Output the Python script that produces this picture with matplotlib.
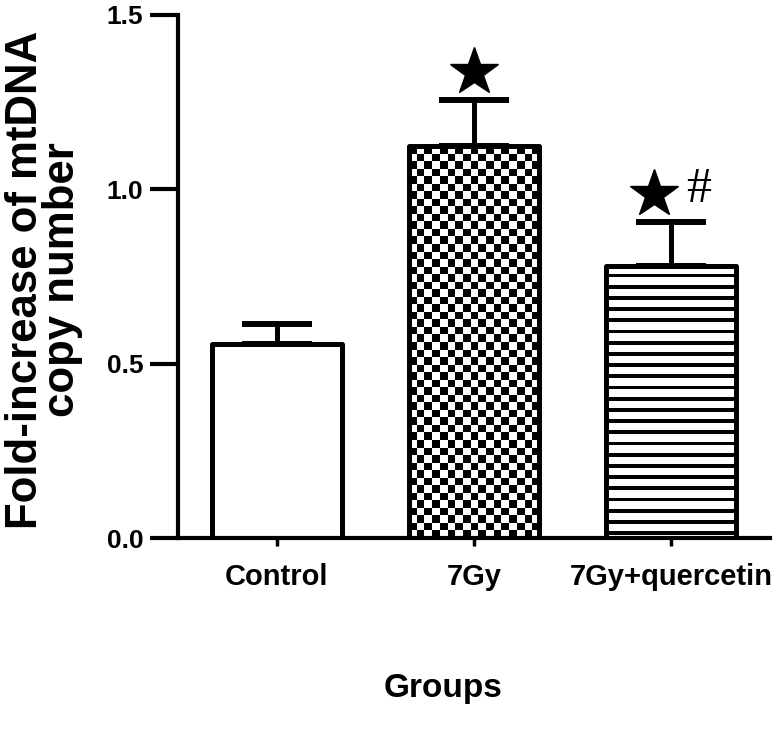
import numpy as np
import matplotlib
matplotlib.use("Agg")
import matplotlib.pyplot as plt

groups = ["Control", "7Gy", "7Gy+quercetin"]
means = [0.555, 1.124, 0.779]
errs = [0.059, 0.132, 0.127]
star_y = [1.336, 0.988]
hash_y = 0.998

sans = ["Liberation Sans", "DejaVu Sans"]

fig = plt.figure(figsize=(7.78, 7.30), dpi=100)
ax = fig.add_axes([178/778, 1-538/730, (770-178)/778, (538-15)/730])

x = np.arange(len(groups))
w = 0.66
bars = ax.bar(x, means, width=w, color="white", edgecolor="black",
              linewidth=3.6, joinstyle="round", zorder=3)
# keep faces transparent so the textures show through
for b in bars:
    b.set_facecolor("none")

ax.errorbar(x, means, yerr=[np.zeros(3), errs], fmt="none", ecolor="black",
            elinewidth=3.6, capsize=25, capthick=4.3, zorder=2)

# checkerboard for 7Gy
b = bars[1]
x0, h = b.get_x(), b.get_height()
cx = 7.6 / 197.5
cy = 7.6 / 348.7
nx = int(round(w / cx))
ny = int(round(h / cy))
ii, jj = np.indices((ny, nx))
checker = ((ii + jj) % 2).astype(float)
im = ax.imshow(checker, cmap="gray", extent=(x0, x0 + w, 0, h), origin="upper",
               interpolation="nearest", aspect="auto", zorder=1)
im.set_clip_path(b)

# horizontal stripes for 7Gy+quercetin
b = bars[2]
x0, h = b.get_x(), b.get_height()
rows = int(round(h * 348.7 * 4))
r = np.arange(rows) / 4.0
stripe = np.where((r % 11.2) > 7.4, 0.0, 1.0)
img = np.tile(stripe[:, None], (1, 4))
im2 = ax.imshow(img, cmap="gray", extent=(x0, x0 + w, 0, h), origin="upper",
                interpolation="nearest", aspect="auto", zorder=1, vmin=0, vmax=1)
im2.set_clip_path(b)

# significance marks
ax.plot([1, 2 - 0.09], star_y, linestyle="none", marker="*", markersize=36,
        color="black", zorder=4)
ax.text(2 + 0.137, hash_y, "#", family="Liberation Serif", fontsize=36,
        ha="center", va="center", zorder=4)

ax.set_xlim(-0.5, 2.5)
ax.set_ylim(0, 1.5)
ax.set_yticks([0.0, 0.5, 1.0, 1.5])
ax.set_yticklabels(["0.0", "0.5", "1.0", "1.5"])
ax.set_xticks(x)
ax.set_xticklabels(groups)

for s in ["top", "right"]:
    ax.spines[s].set_visible(False)
for s in ["left", "bottom"]:
    ax.spines[s].set_linewidth(3.0)

ax.tick_params(axis="y", length=20, width=3.0, pad=5)
ax.tick_params(axis="x", length=6, width=2.5, pad=12)
for lab in ax.get_yticklabels():
    lab.set_family(sans)
    lab.set_fontsize(19)
    lab.set_fontweight("bold")
for lab in ax.get_xticklabels():
    lab.set_family(sans)
    lab.set_fontsize(21)
    lab.set_fontweight("bold")

fig.text(44/778, 1-280/730, "Fold-increase of mtDNA\ncopy number",
         rotation=90, ha="center", va="center", multialignment="center",
         family=sans, fontweight="bold", fontsize=31.5, linespacing=0.9)
fig.text(443/778, 1-688/730, "Groups", ha="center", va="center",
         family=sans, fontweight="bold", fontsize=24)

fig.savefig("out.png", dpi=100)
